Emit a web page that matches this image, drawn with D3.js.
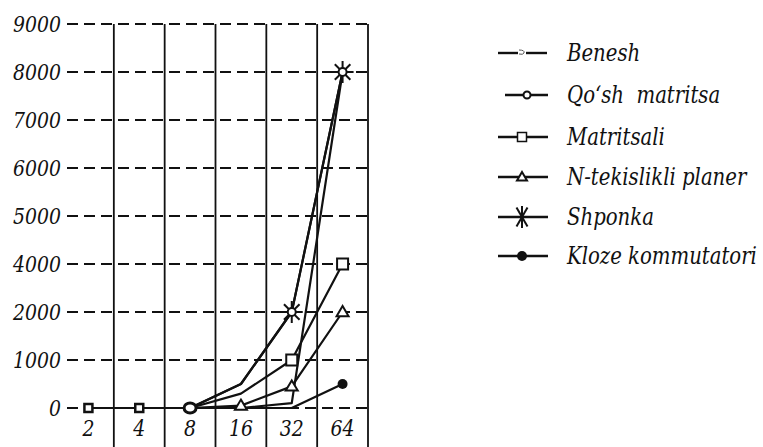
<!DOCTYPE html>
<html><head><meta charset="utf-8">
<script src="https://cdn.jsdelivr.net/npm/d3@7/dist/d3.min.js"></script>
<style>
body{margin:0;background:#fff} svg{display:block}
.t{font-family:"DejaVu Serif Condensed","DejaVu Serif",serif;font-style:italic;font-size:24px;fill:#111;white-space:pre}
</style>
</head><body><svg id="c" width="763" height="447"></svg>
<script>
// ---- data ----
const categories = ["2", "4", "8", "16", "32", "64"];
const yTickValues = [0, 1000, 2000, 4000, 5000, 6000, 7000, 8000, 9000];
const seriesNames = ["Benesh", "Qo\u2018sh  matritsa", "Matritsali", "N-tekislikli planer", "Shponka", "Kloze kommutatori"];
const benesh       = [0, 0, 0, 0, 100, 8000];
const qoshMatritsa = [0, 0, 0, 500, 2000, 8000];
const matritsali   = [0, 0, 0, 300, 1000, 4000];
const nTekislikli  = [0, 0, 0, 50, 450, 2000];
const shponka      = [0, 0, 0, 500, 2000, 8000];
const kloze        = [0, 0, 0, 0, 0, 500];

const seriesValues = [benesh, qoshMatritsa, matritsali, nTekislikli, shponka, kloze];
const markerStyle = [
  {shape: "benesh", show: []},
  {shape: "circle", show: [4, 5]},
  {shape: "square", show: [4, 5]},
  {shape: "triangle", show: [3, 4, 5]},
  {shape: "asterisk", show: [4, 5]},
  {shape: "dot", show: [5]}
];

const svg = d3.select("#c");

function measure(str, size) {
  const t = svg.append("text").attr("class", "t").style("font-size", size + "px").text(str);
  const w = t.node().getComputedTextLength();
  t.remove();
  return w;
}
const AX = 23;                       // axis font size
const axisSx = Math.min(1, 48 / measure("9000", AX));
const LG = 24;                       // legend font size
const legendSx = Math.min(1, 190 / measure("Kloze kommutatori", LG));

const x = d3.scaleBand().domain(categories).range([63, 368]).padding(0);
const yRange = yTickValues.map((d, i) => 408 - i * 48);
const y = d3.scaleLinear().domain(yTickValues).range(yRange);
const cx = c => x(c) + x.bandwidth() / 2;

svg.append("g").selectAll("line").data(yTickValues).join("line")
  .attr("x1", 67).attr("x2", 368)
  .attr("y1", d => y(d)).attr("y2", d => y(d))
  .attr("stroke", "#111").attr("stroke-width", 2)
  .attr("stroke-dasharray", "11,6");

svg.append("g").selectAll("line").data(categories.slice(1).concat(["end"])).join("line")
  .attr("x1", d => d === "end" ? x.range()[1] : x(d))
  .attr("x2", d => d === "end" ? x.range()[1] : x(d))
  .attr("y1", y(9000)).attr("y2", 447)
  .attr("stroke", "#111").attr("stroke-width", 1.8);

svg.append("g").selectAll("text").data(yTickValues).join("text")
  .attr("class", "t").style("font-size", AX + "px")
  .attr("text-anchor", "end")
  .attr("transform", d => `translate(61,${y(d) + AX * 0.36}) scale(${axisSx},1)`)
  .text(d => d);

svg.append("g").selectAll("text").data(categories).join("text")
  .attr("class", "t").style("font-size", AX + "px")
  .attr("text-anchor", "middle")
  .attr("transform", d => `translate(${cx(d)},436) scale(${axisSx},1)`)
  .text(d => d);

const line = d3.line().x((d, i) => cx(categories[i])).y(d => y(d));
svg.append("g").selectAll("path").data(seriesValues).join("path")
  .attr("d", d => line(d))
  .attr("fill", "none").attr("stroke", "#111").attr("stroke-width", 2.2)
  .attr("stroke-linejoin", "round");

function drawMarker(g, shape, px, py, legend) {
  const s = "#111";
  if (shape === "circle") {
    g.append("circle").attr("cx", px).attr("cy", py).attr("r", legend ? 3.5 : 4)
      .attr("fill", "#fff").attr("stroke", s).attr("stroke-width", 2);
  } else if (shape === "bigcircle") {
    g.append("ellipse").attr("cx", px).attr("cy", py).attr("rx", 6).attr("ry", 5)
      .attr("fill", "#fff").attr("stroke", s).attr("stroke-width", 3);
  } else if (shape === "square") {
    const w = legend ? 9 : 11;
    g.append("rect").attr("x", px - w / 2).attr("y", py - w / 2).attr("width", w).attr("height", w)
      .attr("fill", "#fff").attr("stroke", s).attr("stroke-width", legend ? 1.5 : 2);
  } else if (shape === "smallsquare") {
    g.append("rect").attr("x", px - 4).attr("y", py - 4).attr("width", 8).attr("height", 8)
      .attr("fill", "#fff").attr("stroke", s).attr("stroke-width", 2.5);
  } else if (shape === "triangle") {
    const r = legend ? 5 : 6;
    g.append("path")
      .attr("d", `M${px},${py - r}L${px + r},${py + r * 0.7}L${px - r},${py + r * 0.7}Z`)
      .attr("fill", "#fff").attr("stroke", s).attr("stroke-width", 2);
  } else if (shape === "dot") {
    g.append("circle").attr("cx", px).attr("cy", py).attr("r", 5).attr("fill", s);
  } else if (shape === "asterisk") {
    const r = 11;
    const angles = legend ? [90, 60, 120] : [0, 45, 90, 135];
    angles.forEach(a => {
      const rad = a * Math.PI / 180;
      const dx = Math.cos(rad) * r, dy = Math.sin(rad) * r;
      g.append("line").attr("x1", px - dx).attr("y1", py - dy).attr("x2", px + dx).attr("y2", py + dy)
        .attr("stroke", s).attr("stroke-width", 2);
    });
  } else if (shape === "benesh") {
    g.append("path").attr("d", `M${px - 3},${py - 3}Q${px + 3},${py - 3} ${px + 2},${py}Q${px + 1},${py + 2} ${px - 3},${py + 1}`)
      .attr("fill", "none").attr("stroke", "#555").attr("stroke-width", 1);
  }
}

const mg = svg.append("g");
categories.forEach((c, i) => {
  if (seriesValues.every(v => v[i] === 0)) {
    drawMarker(mg, i < 2 ? "smallsquare" : "bigcircle", cx(c), y(0), false);
  }
});
[2, 3, 5, 4, 1, 0].forEach(si => {
  const st = markerStyle[si];
  st.show.forEach(i => drawMarker(mg, st.shape, cx(categories[i]), y(seriesValues[si][i]), false));
});

const legendY = [53, 95, 137, 177, 217, 256];
const lg = svg.append("g");
seriesNames.forEach((name, i) => {
  const ly = legendY[i];
  if (i === 0) {
    lg.append("line").attr("x1", 498).attr("x2", 518).attr("y1", ly).attr("y2", ly).attr("stroke", "#111").attr("stroke-width", 2.4);
    lg.append("line").attr("x1", 526).attr("x2", 547).attr("y1", ly).attr("y2", ly).attr("stroke", "#111").attr("stroke-width", 2.4);
  } else {
    lg.append("line").attr("x1", i === 1 ? 505 : 498).attr("x2", 548).attr("y1", ly).attr("y2", ly)
      .attr("stroke", "#111").attr("stroke-width", 2.4);
  }
  drawMarker(lg, markerStyle[i].shape, i === 1 ? 527 : 522, ly, true);
  lg.append("text").attr("class", "t").style("font-size", LG + "px")
    .attr("transform", `translate(567,${ly + LG * 0.33}) scale(${legendSx},1)`)
    .text(name);
});
</script>
</body></html>
